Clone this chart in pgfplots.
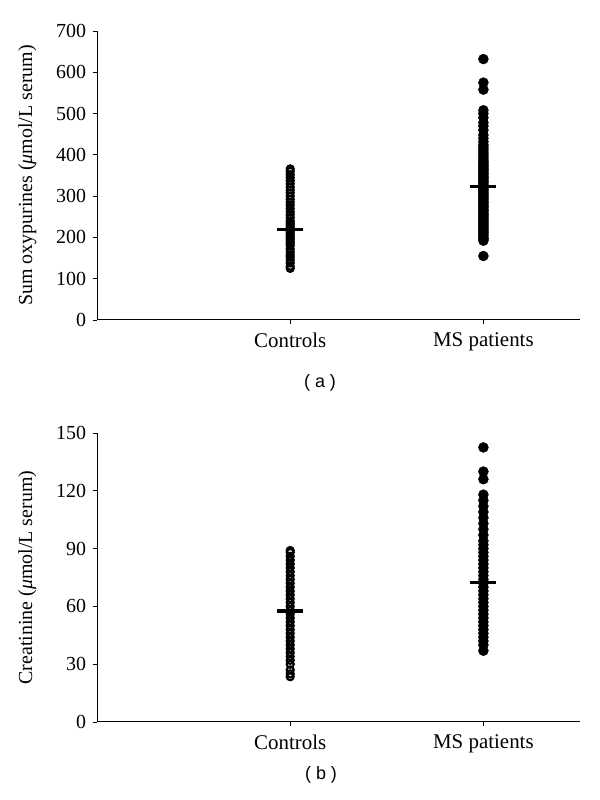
\documentclass[border=0pt]{standalone}
\usepackage{fontspec}
\setmainfont{Liberation Serif}
\newfontfamily\capfont{Liberation Sans}
\usepackage{pgfplots}
\pgfplotsset{compat=1.18}
\pgfplotsset{
  panel/.style={
    scale only axis,
    width=483bp, height=289bp,
    anchor=south west,
    axis lines*=left,
    xmin=0, xmax=2.5,
    ymin=0,
    xtick={1,2},
    xticklabels={Controls, MS patients},
    tick style={black, line width=0.8pt},
    tick align=outside,
    major tick length=4.5bp,
    axis line style={line width=1pt},
    yticklabel style={font=\fontsize{20}{22}\selectfont, xshift=-3bp},
    xticklabel style={font=\fontsize{21}{23}\selectfont, yshift=-5bp},
    label style={font=\fontsize{20}{22}\selectfont},
    /pgf/number format/assume math mode=true,
    clip=false,
  },
  ctrl/.style={only marks, mark=o, mark size=3.5bp, mark options={line width=2.2bp, black, fill=white}},
  ms/.style={only marks, mark=*, mark size=5bp, mark options={black, fill=black}},
  meanbar/.style={black, line width=3.2bp, no marks},
}
\begin{document}
\begin{tikzpicture}[x=1bp,y=1bp]
\path[use as bounding box] (0,0) rectangle (600,800);
% Panel (a)
\begin{axis}[panel, at={(97bp,480bp)}, ymax=700, ytick={0,100,...,700},
  ylabel={Sum oxypurines (\textit{μ}mol/L serum)}, ylabel style={at={(axis description cs:-0.118,0.5)}}]
\addplot[ctrl] coordinates {
(1,125)(1,130)(1,138)(1,145)(1,152)(1,158)(1,165)(1,172)(1,180)(1,185)(1,190)(1,195)(1,200)(1,205)(1,210)(1,215)(1,220)(1,225)(1,230)(1,235)(1,240)(1,248)(1,255)(1,262)(1,270)(1,278)(1,285)(1,292)(1,300)(1,308)(1,315)(1,322)(1,330)(1,338)(1,345)(1,352)(1,360)(1,366)
};
\addplot[ms] coordinates {
(2,155)(2,192)(2,195)(2,198)(2,200)(2,205)(2,208)(2,212)(2,215)(2,218)(2,222)(2,225)(2,228)(2,232)(2,235)(2,238)(2,242)(2,245)(2,248)(2,252)(2,255)(2,258)(2,262)(2,265)(2,268)(2,272)(2,275)(2,278)(2,282)(2,285)(2,288)(2,292)(2,295)(2,298)(2,302)(2,305)(2,308)(2,312)(2,315)(2,318)(2,322)(2,325)(2,328)(2,332)(2,335)(2,338)(2,342)(2,345)(2,348)(2,352)(2,355)(2,358)(2,362)(2,365)(2,368)(2,372)(2,375)(2,378)(2,382)(2,385)(2,390)(2,395)(2,400)(2,405)(2,410)(2,415)(2,420)(2,425)(2,432)(2,440)(2,448)(2,460)(2,470)(2,478)(2,490)(2,500)(2,508)(2,558)(2,575)(2,632)
};
\addplot[meanbar] coordinates {(0.933,219) (1.067,219)};
\addplot[meanbar] coordinates {(1.933,323) (2.067,323)};
\end{axis}
% Panel (b)
\begin{axis}[panel, at={(97bp,78bp)}, ymax=150, ytick={0,30,...,150},
  ylabel={Creatinine (\textit{μ}mol/L serum)}, ylabel style={at={(axis description cs:-0.118,0.5)}}]
\addplot[ctrl] coordinates {
(1,23.5)(1,25)(1,27)(1,30)(1,32)(1,34)(1,36)(1,38)(1,40)(1,42)(1,44)(1,46)(1,48)(1,50)(1,52)(1,54)(1,56)(1,58)(1,60)(1,62)(1,64)(1,66)(1,68)(1,70)(1,72)(1,74)(1,76)(1,78)(1,80)(1,82)(1,84)(1,86)(1,88)(1,89)
};
\addplot[ms] coordinates {
(2,37)(2,40)(2,42)(2,44)(2,46)(2,48)(2,50)(2,52)(2,54)(2,56)(2,58)(2,60)(2,62)(2,64)(2,66)(2,68)(2,70)(2,72)(2,74)(2,76)(2,78)(2,80)(2,82)(2,84)(2,86)(2,88)(2,90)(2,92)(2,94)(2,97)(2,100)(2,103)(2,106)(2,109)(2,112)(2,115)(2,118)(2,126)(2,130)(2,142.5)
};
\addplot[meanbar] coordinates {(0.933,57.6) (1.067,57.6)};
\addplot[meanbar] coordinates {(1.933,72.6) (2.067,72.6)};
\end{axis}
\node[font=\capfont\fontsize{18}{20}\selectfont] at (320,417) {( a )};
\node[font=\capfont\fontsize{18}{20}\selectfont] at (321,25) {( b )};
\end{tikzpicture}
\end{document}
